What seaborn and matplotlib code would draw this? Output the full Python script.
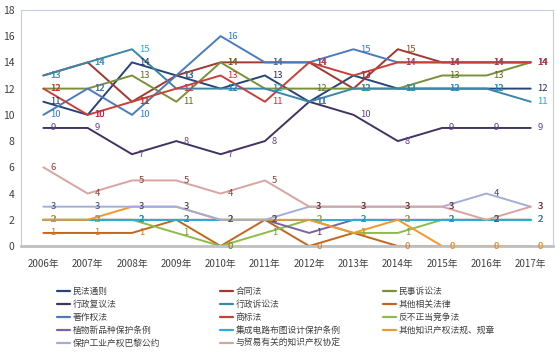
import numpy as np
import pandas as pd
import matplotlib
matplotlib.use("Agg")
import matplotlib.pyplot as plt
import seaborn as sns
from matplotlib.lines import Line2D

# data
years = ["2006年", "2007年", "2008年", "2009年", "2010年", "2011年",
         "2012年", "2013年", "2014年", "2015年", "2016年", "2017年"]
names = ["民法通则", "合同法", "民事诉讼法",
         "行政复议法", "行政诉讼法", "其他相关法律",
         "著作权法", "商标法", "反不正当竞争法",
         "植物新品种保护条例", "集成电路布图设计保护条例", "其他知识产权法规、规章",
         "保护工业产权巴黎公约", "与贸易有关的知识产权协定"]

minfa = [11, 10, 14, 13, 12, 13, 11, 13, 12, 12, 12, 12]
hetong = [13, 14, 11, 13, 14, 14, 14, 12, 15, 14, 14, 14]
minshi = [12, 12, 13, 11, 14, 12, 12, 12, 12, 13, 13, 14]
xingzheng_fuyi = [9, 9, 7, 8, 7, 8, 11, 10, 8, 9, 9, 9]
xingzheng_susong = [13, 14, 15, 12, 12, 12, 11, 12, 12, 12, 12, 11]
qita_falv = [1, 1, 1, 2, 0, 2, 0, 1, 0, 0, 0, 0]
zhuzuoquan = [10, 12, 10, 13, 16, 14, 14, 15, 14, 14, 14, 14]
shangbiao = [12, 10, 11, 12, 13, 11, 14, 13, 14, 14, 14, 14]
fanbuzhengdang = [2, 2, 2, 1, 0, 1, 2, 1, 1, 2, 2, 2]
zhiwu = [2, 2, 2, 2, 2, 2, 1, 2, 2, 2, 2, 2]
jicheng = [2, 2, 2, 2, 2, 2, 2, 2, 2, 2, 2, 2]
qita_fagui = [2, 2, 3, 3, 2, 2, 2, 1, 2, 0, 0, 0]
bali = [3, 3, 3, 3, 2, 2, 3, 3, 3, 3, 4, 3]
trips = [6, 4, 5, 5, 4, 5, 3, 3, 3, 3, 2, 3]

values = [minfa, hetong, minshi, xingzheng_fuyi, xingzheng_susong, qita_falv,
          zhuzuoquan, shangbiao, fanbuzhengdang, zhiwu, jicheng, qita_fagui,
          bali, trips]

line_colors = ["#27457A", "#A2382F", "#7A9136", "#413362", "#3A87A8", "#C4651E",
               "#4A7BC0", "#C8403A", "#8DBB48", "#7A62A8", "#2BAED8", "#F4962E",
               "#A3AED8", "#D8A4A2"]
label_colors = ["#1F2F5C", "#8B4A1C", "#5B6A23", "#6A3D9A", "#1EA7E1", "#D9731C",
                "#2F7AC7", "#E8232A", "#6E9E2E", "#4A3A80", "#1BA9E0", "#F3A12E",
                "#3A4478", "#8C3B2E"]

df = pd.DataFrame({
    "pos": np.tile(np.arange(len(years)), len(names)),
    "law": np.repeat(names, len(years)),
    "count": np.concatenate(values),
})

sns.set_theme(style="white")
plt.rcParams["font.family"] = ["Noto Sans CJK SC", "DejaVu Sans"]

fig = plt.figure(figsize=(5.59, 3.53), dpi=100)
ax = fig.add_axes([0.038, 0.303, 0.951, 0.669])

sns.lineplot(data=df, x="pos", y="count", hue="law", hue_order=names,
             palette=line_colors, linewidth=1.4, errorbar=None, sort=False,
             legend=False, ax=ax)

# data labels, right of each point
for i, vals in enumerate(values):
    for j, v in enumerate(vals):
        ax.annotate(str(v), (j, v), xytext=(5, 0), textcoords="offset points",
                    ha="left", va="center", fontsize=6.8, color=label_colors[i])

ax.set_xlim(-0.5, len(years) - 0.5)
ax.set_ylim(0, 18)
ax.set_yticks(range(0, 19, 2))
ax.set_xticks(range(len(years)))
ax.set_xticklabels(years)
ax.set_xlabel("")
ax.set_ylabel("")
ax.tick_params(axis="x", labelsize=7, colors="#404040", length=0, pad=9)
ax.tick_params(axis="y", labelsize=7.5, colors="#404040", length=0, pad=5)

for s in ["top", "left", "right"]:
    ax.spines[s].set_color("#C5CCE0")
    ax.spines[s].set_linewidth(0.8)
ax.spines["bottom"].set_color("#BFBFBF")
ax.spines["bottom"].set_linewidth(2)

# legend in three columns, row-wise order like the original
handles = [Line2D([], [], color=c, linewidth=1.6) for c in line_colors]
col_x = [57, 220, 383]
for k in range(3):
    idx = list(range(k, len(names), 3))
    fig.legend([handles[i] for i in idx], [names[i] for i in idx],
               loc="upper left", bbox_to_anchor=(col_x[k] / 559, 1 - 287 / 353),
               frameon=False, borderpad=0, borderaxespad=0, handlelength=1.5,
               handletextpad=0.3, labelspacing=0.45, fontsize=6.3,
               labelcolor="#404040")

fig.savefig("out.png", dpi=100)
